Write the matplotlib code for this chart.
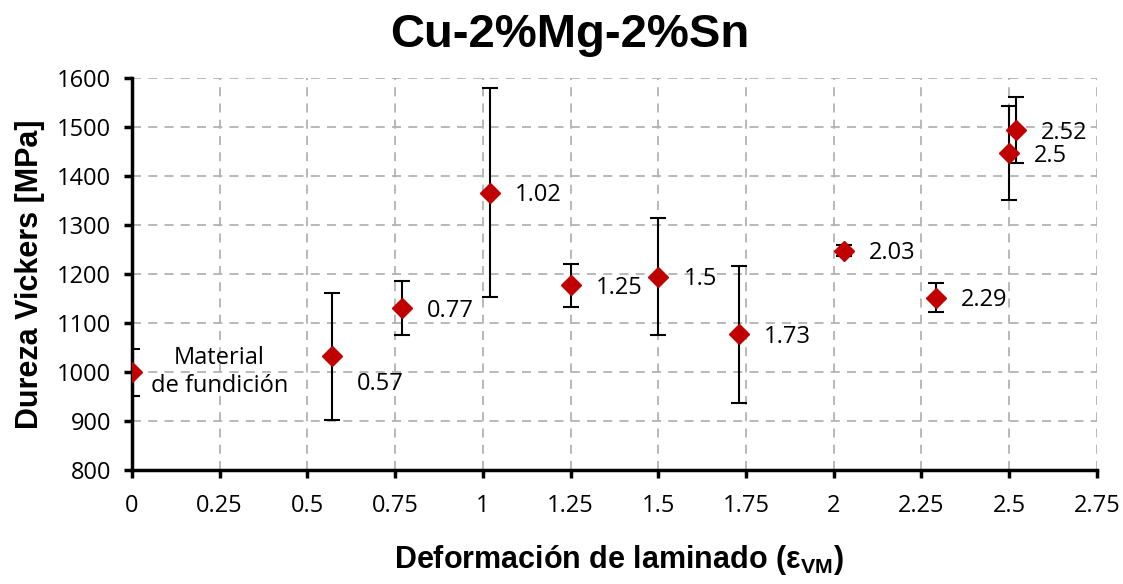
import numpy as np
import matplotlib.pyplot as plt

plt.rcParams['font.family'] = ['Open Sans', 'DejaVu Sans']

strain = [0, 0.57, 0.77, 1.02, 1.25, 1.5, 1.73, 2.03, 2.29, 2.5, 2.52]
hardness = [1000, 1032, 1130, 1366, 1177, 1195, 1077, 1248, 1152, 1447, 1494]
error = [48, 130, 55, 213, 44, 120, 140, 12, 29, 95, 68]
labels = ['', '0.57', '0.77', '1.02', '1.25', '1.5', '1.73', '2.03', '2.29', '2.5', '2.52']

fig = plt.figure(figsize=(11.23, 5.84), dpi=100)
ax = fig.add_axes([0.1175, 0.195, 0.8593, 0.6714])

ax.errorbar(strain, hardness, yerr=error, fmt='D', color='#C00000', markersize=10,
            ecolor='black', elinewidth=1.5, capsize=6, capthick=1.5, zorder=3)

for x, y, t in zip(strain, hardness, labels):
    if t:
        dy = -20 if t == '0.57' else -2
        ax.annotate(t, (x, y), xytext=(18, dy), textcoords='offset points',
                    va='center', ha='left', fontsize=17)
ax.text(0.25, 1000, 'Material\nde fundición', ha='center', va='center',
        fontsize=17, linespacing=1.25)

ax.set_xlim(0, 2.75)
ax.set_ylim(800, 1600)
ax.set_xticks(np.arange(0, 2.76, 0.25))
ax.set_xticklabels(['0', '0.25', '0.5', '0.75', '1', '1.25', '1.5', '1.75', '2', '2.25', '2.5', '2.75'])
ax.set_yticks(np.arange(800, 1601, 100))
ax.grid(True, color='#b3b3b3', linestyle=(0, (5, 4)), linewidth=1.3)
ax.set_axisbelow(True)

for s in ['top', 'right']:
    ax.spines[s].set_visible(False)
for s in ['left', 'bottom']:
    ax.spines[s].set_linewidth(2.5)
ax.tick_params(axis='both', labelsize=17, width=2.5, length=6, direction='out')
ax.tick_params(axis='x', pad=11)
ax.tick_params(axis='y', pad=9)

ax.set_xlabel('Deformación de laminado (ε$_\\mathregular{VM}$)', fontsize=22,
              fontweight='bold', family='Liberation Sans')
ax.set_ylabel('Dureza Vickers [MPa]', fontsize=22, fontweight='bold',
              family='Liberation Sans')
ax.xaxis.set_label_coords(0.505, -0.185)
ax.yaxis.set_label_coords(-0.09, 0.5)
fig.suptitle('Cu-2%Mg-2%Sn', fontsize=34, fontweight='bold',
             family='Liberation Sans', x=0.507, y=0.978)

fig.savefig('out.png', dpi=100)
